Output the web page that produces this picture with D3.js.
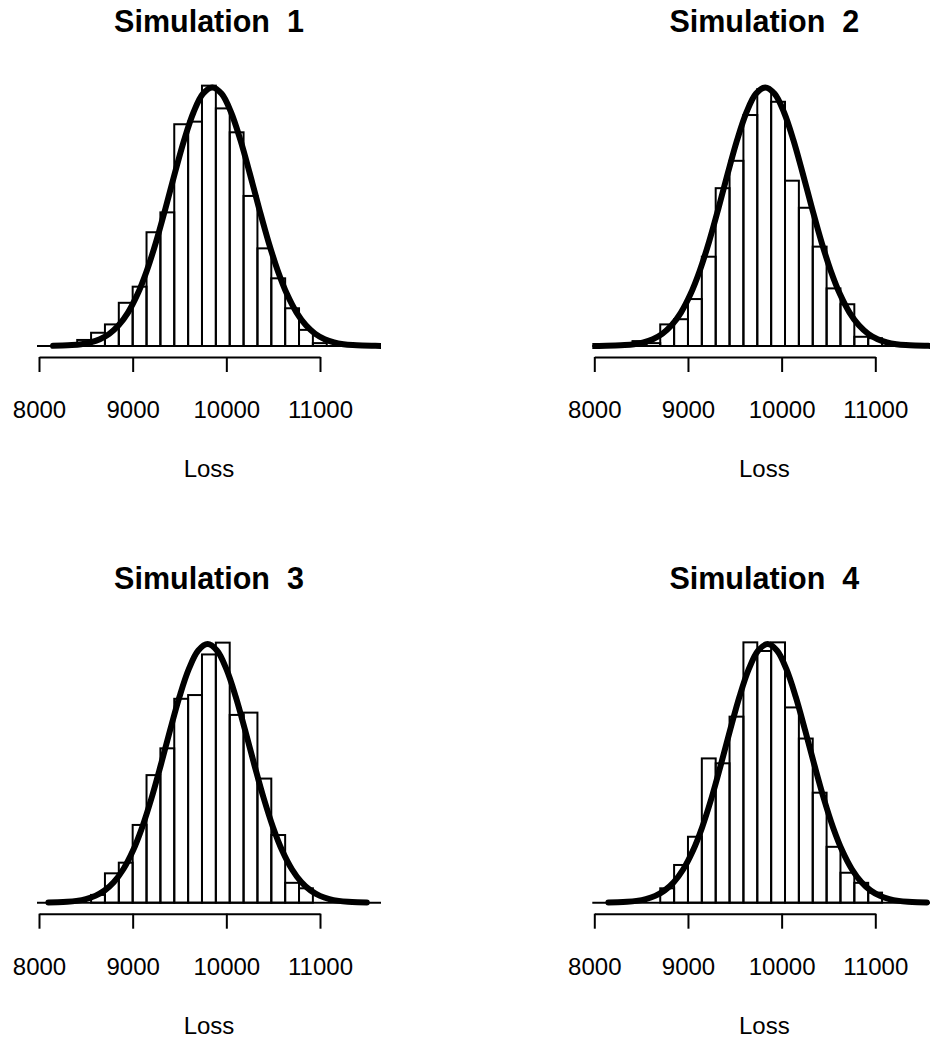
<!DOCTYPE html>
<html>
<head>
<meta charset="utf-8">
<script src="https://cdn.jsdelivr.net/npm/d3@7"></script>
<style>
  body { margin: 0; background: #fff; }
  svg text { font-family: "Liberation Sans", Arial, sans-serif; fill: #000; }
</style>
</head>
<body>
<div id="chart"></div>
<script>

// histogram bins: binStart + k * binWidth (same breaks in all four panels)
var binStart = 8408, binWidth = 148;

var titles = ["Simulation  1", "Simulation  2", "Simulation  3", "Simulation  4"];
var xTicks = [8000, 9000, 10000, 11000];
var xLabel = "Loss";

// bar densities (x 1e-4), one per bin
var density1 = [0.21, 0.46, 0.75, 1.50, 2.06, 3.95, 4.64, 7.70, 7.79, 9.04, 8.25, 7.42, 5.21, 3.39, 2.35, 1.31, 0.56, 0.10];
var density2 = [0.17, 0.10, 0.75, 0.93, 1.63, 3.10, 5.48, 6.43, 8.02, 8.92, 8.48, 5.74, 4.80, 3.45, 2.00, 1.45, 0.32, 0.27];
var density3 = [0, 0.27, 1.02, 1.39, 2.70, 4.43, 5.36, 7.08, 7.21, 8.62, 9.03, 6.52, 6.60, 4.31, 2.35, 0.69, 0.50, 0];
var density4 = [0, 0, 0.50, 1.31, 2.29, 5.01, 4.84, 6.46, 9.04, 8.74, 9.04, 6.78, 5.70, 3.82, 1.94, 1.04, 0.69, 0.35];

// fitted density curves read every 100 of loss, starting at curveStartN
var curveStep = 100;
var curveStart1 = 8150;
var curve1 = [0.006, 0.014, 0.031, 0.064, 0.126, 0.237, 0.423, 0.719, 1.161, 1.784, 2.606, 3.618, 4.777, 5.995, 7.155, 8.117, 8.756, 8.98,
              8.756, 8.117, 7.155, 5.995, 4.777, 3.618, 2.606, 1.784, 1.161, 0.719, 0.423, 0.237, 0.126, 0.064, 0.031, 0.014, 0.006, 0.003];
var curveStart2 = 7925;
var curve2 = [0.001, 0.003, 0.006, 0.014, 0.031, 0.064, 0.126, 0.237, 0.423, 0.719, 1.161, 1.784, 2.606, 3.618, 4.777, 5.995, 7.155, 8.117, 8.756, 8.98,
              8.756, 8.117, 7.155, 5.995, 4.777, 3.618, 2.606, 1.784, 1.161, 0.719, 0.423, 0.237, 0.126, 0.064, 0.031, 0.014, 0.006, 0.003];
var curveStart3 = 8100;
var curve3 = [0.006, 0.014, 0.031, 0.064, 0.126, 0.237, 0.423, 0.719, 1.161, 1.784, 2.606, 3.618, 4.777, 5.995, 7.155, 8.117, 8.756, 8.98,
              8.756, 8.117, 7.155, 5.995, 4.777, 3.618, 2.606, 1.784, 1.161, 0.719, 0.423, 0.237, 0.126, 0.064, 0.031, 0.014, 0.006];
var curveStart4 = 8150;
var curve4 = [0.006, 0.014, 0.031, 0.064, 0.126, 0.237, 0.423, 0.719, 1.161, 1.784, 2.606, 3.618, 4.777, 5.995, 7.155, 8.117, 8.756, 8.98,
              8.756, 8.117, 7.155, 5.995, 4.777, 3.618, 2.606, 1.784, 1.161, 0.719, 0.423, 0.237, 0.126, 0.064, 0.031, 0.014, 0.006];

var panels = [
  {title: titles[0], density: density1, curve: curve1, curveStart: curveStart1, dx: 0,     dy: 0},
  {title: titles[1], density: density2, curve: curve2, curveStart: curveStart2, dx: 555.3, dy: 0},
  {title: titles[2], density: density3, curve: curve3, curveStart: curveStart3, dx: 0,     dy: 556.7},
  {title: titles[3], density: density4, curve: curve4, curveStart: curveStart4, dx: 555.3, dy: 556.7}
];

var width = 930, height = 1040;
var plotLeft = 37, plotRight = 381, axisY = 357;

var svg = d3.select("#chart")
  .append("svg")
  .attr("width", width)
  .attr("height", height);

// shared scales for every panel
var x = d3.scaleLinear().domain([8000, 11000]).range([39, 320]);
var y = d3.scaleLinear().domain([0, 10]).range([346, 58]);

var line = d3.line()
  .x(function(d) { return x(d.loss); })
  .y(function(d) { return y(d.dens); })
  .curve(d3.curveCatmullRom);

panels.forEach(function(p, i) {
  var g = svg.append("g")
    .attr("transform", "translate(" + p.dx + "," + p.dy + ")");

  g.append("clipPath")
    .attr("id", "clip" + i)
    .append("rect")
    .attr("x", plotLeft)
    .attr("y", 0)
    .attr("width", plotRight - plotLeft)
    .attr("height", axisY);

  // histogram bars
  var bars = p.density.map(function(d, k) { return {x0: binStart + k * binWidth, dens: d}; })
    .filter(function(b) { return b.dens > 0; });

  g.selectAll(".bar")
    .data(bars)
    .enter()
    .append("rect")
    .attr("class", "bar")
    .attr("x", function(d) { return x(d.x0); })
    .attr("y", function(d) { return y(d.dens); })
    .attr("width", x(binStart + binWidth) - x(binStart))
    .attr("height", function(d) { return y(0) - y(d.dens); })
    .attr("fill", "none")
    .attr("stroke", "#000")
    .attr("stroke-width", 2);

  // zero line across the plot region
  g.append("line")
    .attr("x1", plotLeft)
    .attr("x2", plotRight)
    .attr("y1", y(0))
    .attr("y2", y(0))
    .attr("stroke", "#000")
    .attr("stroke-width", 2);

  // density curve
  var pts = p.curve.map(function(d, j) { return {loss: p.curveStart + j * curveStep, dens: d}; });
  g.append("path")
    .datum(pts)
    .attr("d", line)
    .attr("clip-path", "url(#clip" + i + ")")
    .attr("fill", "none")
    .attr("stroke", "#000")
    .attr("stroke-width", 6)
    .attr("stroke-linecap", "round")
    .attr("stroke-linejoin", "round");

  // x axis
  var axis = g.append("g")
    .attr("transform", "translate(0," + axisY + ")")
    .call(d3.axisBottom(x)
      .tickValues(xTicks)
      .tickFormat(d3.format("d"))
      .tickSize(15)
      .tickSizeOuter(0)
      .tickPadding(29));
  axis.select(".domain").attr("stroke-width", 2);
  axis.selectAll(".tick line").attr("stroke-width", 2);
  axis.selectAll(".tick text")
    .attr("font-size", 24)
    .style("font-family", "'Liberation Sans', Arial, sans-serif");

  g.append("text")
    .attr("x", (plotLeft + plotRight) / 2)
    .attr("y", 477)
    .attr("text-anchor", "middle")
    .attr("font-size", 24)
    .text(xLabel);

  g.append("text")
    .attr("x", (plotLeft + plotRight) / 2)
    .attr("y", 32)
    .attr("text-anchor", "middle")
    .attr("font-size", 30.5)
    .attr("font-weight", "bold")
    .style("white-space", "pre")
    .text(p.title);
});

</script>
</body>
</html>
